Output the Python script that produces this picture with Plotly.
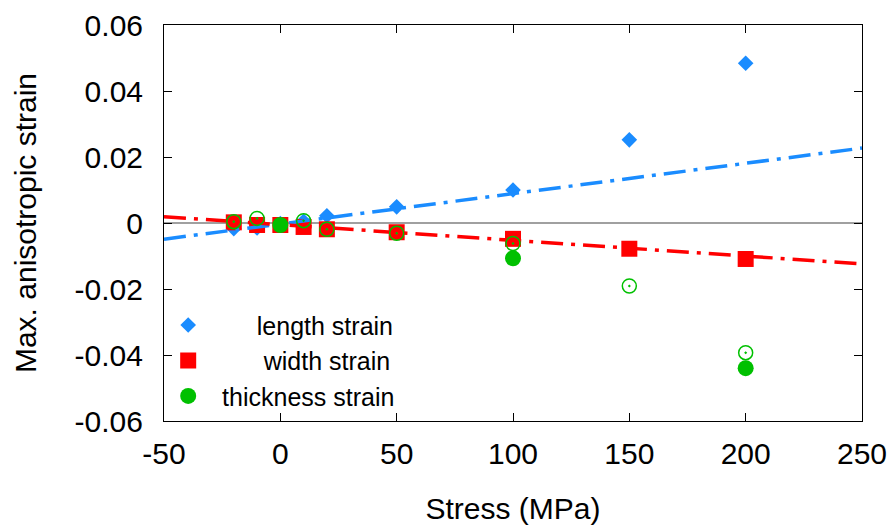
import plotly.graph_objects as go

stress = [-20, -10, 0, 10, 20, 50, 100, 150, 200]
length_strain = [-0.0017, -0.0015, -0.0002, 0.0005, 0.0022, 0.0049, 0.0100, 0.0252, 0.0484]
width_strain = [0.0002, -0.0006, -0.0006, -0.0012, -0.0019, -0.0028, -0.0048, -0.0078, -0.0109]
thick_stress = [0, 100, 200]
thickness_strain = [-0.0006, -0.0107, -0.0440]
thick_b_stress = [-20, -10, 10, 20, 50, 100, 150, 200]
thickness_strain_b = [0.0004, 0.0014, 0.0007, -0.0019, -0.0031, -0.0062, -0.0191, -0.0393]

fit_x = [-50, 250]
length_fit = [-0.0049, 0.0227]
width_fit = [0.0019, -0.0124]

x_ticks = [-50, 0, 50, 100, 150, 200, 250]
x_ticktext = ["-50", "0", "50", "100", "150", "200", "250"]
y_ticks = [-0.06, -0.04, -0.02, 0, 0.02, 0.04, 0.06]
y_ticktext = ["-0.06", "-0.04", "-0.02", "0", "0.02", "0.04", "0.06"]

BLUE = "#1a8cff"
RED = "#ff0000"
GREEN = "#00c000"
FONT = "Liberation Sans, Arial, sans-serif"
NB = "\u00a0"

fig = go.Figure()
fig.add_trace(go.Scatter(x=stress, y=length_strain, mode="markers", name=NB * 7 + "length strain",
                         marker=dict(symbol="diamond", size=12, color=BLUE)))
fig.add_trace(go.Scatter(x=stress, y=width_strain, mode="markers", name=NB * 8 + "width strain",
                         marker=dict(symbol="square", size=16, color=RED)))
fig.add_trace(go.Scatter(x=fit_x, y=length_fit, mode="lines", showlegend=False,
                         line=dict(color=BLUE, width=3.5, dash="22px,8px,4px,8px")))
fig.add_trace(go.Scatter(x=fit_x, y=width_fit, mode="lines", showlegend=False,
                         line=dict(color=RED, width=3.5, dash="22px,8px,4px,8px")))
fig.add_trace(go.Scatter(x=thick_b_stress, y=thickness_strain_b, mode="markers", showlegend=False,
                         marker=dict(symbol="circle-open-dot", size=14, color=GREEN,
                                     line=dict(width=1.5, color=GREEN))))
fig.add_trace(go.Scatter(x=thick_stress, y=thickness_strain, mode="markers", name=NB * 2 + "thickness strain",
                         marker=dict(symbol="circle", size=16, color=GREEN)))

axis_common = dict(showline=True, linecolor="black", linewidth=1, mirror="allticks",
                   ticks="inside", ticklen=8, tickwidth=1, tickcolor="black",
                   showgrid=False, automargin=False,
                   tickfont=dict(family=FONT, size=30, color="black"))

fig.update_xaxes(range=[-50, 250], tickvals=x_ticks, ticktext=x_ticktext, zeroline=False,
                 ticklabelstandoff=6,
                 title=dict(text="Stress (MPa)", font=dict(family=FONT, size=30, color="black"), standoff=28),
                 **axis_common)
fig.update_yaxes(range=[-0.06, 0.06], tickvals=y_ticks, ticktext=y_ticktext,
                 zeroline=True, zerolinecolor="#a0a0a0", zerolinewidth=2,
                 ticklabelstandoff=14,
                 title=dict(text="Max. anisotropic strain", font=dict(family=FONT, size=30, color="black"), standoff=29),
                 **axis_common)

fig.update_layout(
    width=892, height=530,
    margin=dict(l=164, r=30, t=25, b=109),
    plot_bgcolor="white", paper_bgcolor="white",
    font=dict(family=FONT, color="black"),
    legend=dict(x=0.006, y=0.30, xanchor="left", yanchor="top",
                bgcolor="rgba(0,0,0,0)", font=dict(family=FONT, size=25, color="black"),
                tracegroupgap=0),
)

fig.write_html("out.html", config={"displayModeBar": False},
               post_script="document.body.style.margin='0';document.body.style.overflow='hidden';")
